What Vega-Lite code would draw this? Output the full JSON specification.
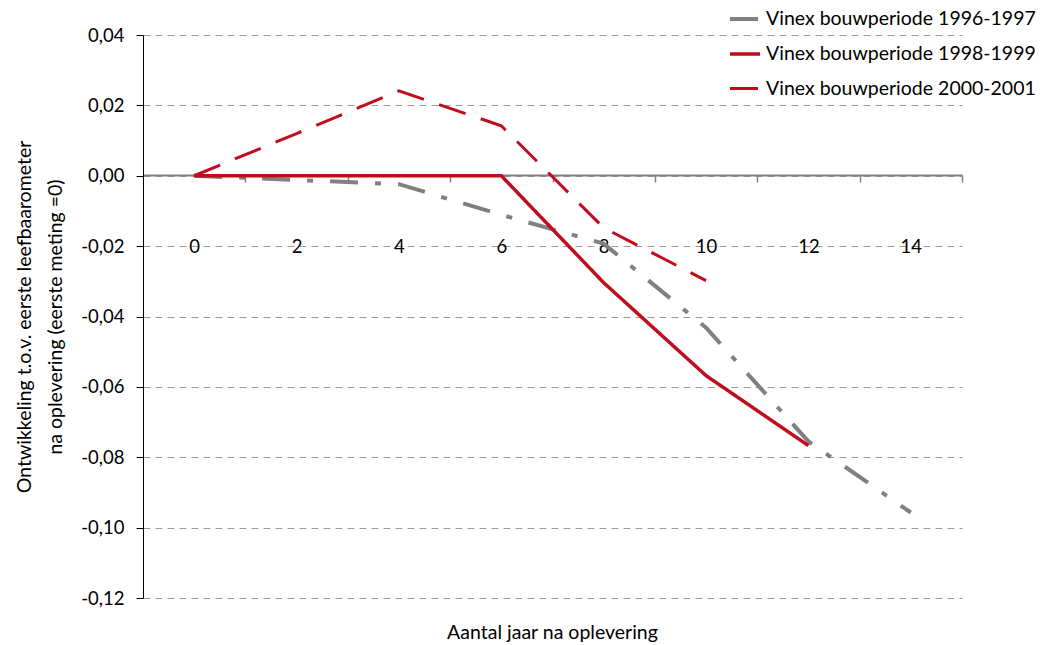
{
  "$schema": "https://vega.github.io/schema/vega-lite/v6.json",
  "width": 819,
  "height": 563,
  "autosize": {"type": "none"},
  "padding": {"left": 143, "top": 35, "right": 84, "bottom": 47},
  "background": "white",
  "config": {
    "locale": {"number": {"decimal": ",", "thousands": ".", "grouping": [3], "currency": ["€", ""], "minus": "-"}},
    "font": "Lato",
    "view": {"stroke": null}
  },
  "data": {
    "values": [
      {"jaar": 0, "waarde": 0, "serie": "Vinex bouwperiode 1996-1997"},
      {"jaar": 2, "waarde": -0.0012, "serie": "Vinex bouwperiode 1996-1997"},
      {"jaar": 4, "waarde": -0.0024, "serie": "Vinex bouwperiode 1996-1997"},
      {"jaar": 6, "waarde": -0.0111, "serie": "Vinex bouwperiode 1996-1997"},
      {"jaar": 8, "waarde": -0.0193, "serie": "Vinex bouwperiode 1996-1997"},
      {"jaar": 10, "waarde": -0.0432, "serie": "Vinex bouwperiode 1996-1997"},
      {"jaar": 12, "waarde": -0.0755, "serie": "Vinex bouwperiode 1996-1997"},
      {"jaar": 14, "waarde": -0.0957, "serie": "Vinex bouwperiode 1996-1997"},
      {"jaar": 0, "waarde": 0, "serie": "Vinex bouwperiode 1998-1999"},
      {"jaar": 2, "waarde": 0, "serie": "Vinex bouwperiode 1998-1999"},
      {"jaar": 4, "waarde": 0, "serie": "Vinex bouwperiode 1998-1999"},
      {"jaar": 6, "waarde": 0, "serie": "Vinex bouwperiode 1998-1999"},
      {"jaar": 8, "waarde": -0.0304, "serie": "Vinex bouwperiode 1998-1999"},
      {"jaar": 10, "waarde": -0.0568, "serie": "Vinex bouwperiode 1998-1999"},
      {"jaar": 12, "waarde": -0.0767, "serie": "Vinex bouwperiode 1998-1999"},
      {"jaar": 0, "waarde": 0, "serie": "Vinex bouwperiode 2000-2001"},
      {"jaar": 2, "waarde": 0.012, "serie": "Vinex bouwperiode 2000-2001"},
      {"jaar": 4, "waarde": 0.0241, "serie": "Vinex bouwperiode 2000-2001"},
      {"jaar": 6, "waarde": 0.0142, "serie": "Vinex bouwperiode 2000-2001"},
      {"jaar": 8, "waarde": -0.0148, "serie": "Vinex bouwperiode 2000-2001"},
      {"jaar": 10, "waarde": -0.0298, "serie": "Vinex bouwperiode 2000-2001"}
    ]
  },
  "mark": {"type": "line", "strokeCap": "butt", "strokeJoin": "miter"},
  "encoding": {
    "x": {
      "field": "jaar",
      "type": "quantitative",
      "scale": {"domain": [-1, 15], "nice": false, "zero": false},
      "axis": {
        "orient": "bottom",
        "offset": -423,
        "values": [0, 1, 2, 3, 4, 5, 6, 7, 8, 9, 10, 11, 12, 13, 14, 15],
        "labelExpr": "datum.value % 2 == 0 ? datum.label : ''",
        "tickOpacity": {"condition": {"test": "datum.value % 2 == 1", "value": 1}, "value": 0},
        "tickSize": 7,
        "tickColor": "#808080",
        "tickWidth": 1.5,
        "domainColor": "#808080",
        "domainWidth": 2,
        "labelPadding": 55,
        "labelBaseline": "top",
        "labelFontSize": 18.5,
        "labelColor": "black",
        "labelFont": "Lato",
        "grid": false,
        "title": "Aantal jaar na oplevering",
        "titleFontSize": 19.5,
        "titleFontWeight": "normal",
        "titleColor": "black",
        "titleFont": "Lato",
        "titleX": 409,
        "titleY": 457,
        "titleBaseline": "middle",
        "titleAnchor": null
      }
    },
    "y": {
      "field": "waarde",
      "type": "quantitative",
      "scale": {"domain": [-0.12, 0.04], "nice": false, "zero": false},
      "axis": {
        "values": [-0.12, -0.1, -0.08, -0.06, -0.04, -0.02, 0, 0.02, 0.04],
        "format": ".2f",
        "tickSize": 7,
        "tickColor": "black",
        "domainColor": "black",
        "domainWidth": 1,
        "labelPadding": 12,
        "labelFontSize": 18.5,
        "labelColor": "black",
        "labelFont": "Lato",
        "grid": true,
        "gridDash": [7, 5],
        "gridColor": "#9a9a9a",
        "gridWidth": 1,
        "title": ["Ontwikkeling t.o.v. eerste leefbaarometer", "na oplevering (eerste meting =0)"],
        "titleFontSize": 19.5,
        "titleFontWeight": "normal",
        "titleColor": "black",
        "titleFont": "Lato",
        "titleLineHeight": 31,
        "titlePadding": 15
      }
    },
    "color": {
      "field": "serie",
      "type": "nominal",
      "scale": {
        "domain": ["Vinex bouwperiode 1996-1997", "Vinex bouwperiode 1998-1999", "Vinex bouwperiode 2000-2001"],
        "range": ["#808080", "#c00d1e", "#c00d1e"]
      },
      "legend": {
        "orient": "none",
        "legendX": 585,
        "legendY": -33,
        "title": null,
        "symbolType": "stroke",
        "symbolSize": 900,
        "symbolStrokeWidth": 4,
        "labelFontSize": 19.5,
        "labelFont": "Lato",
        "labelColor": "black",
        "labelLimit": 0,
        "labelOffset": 4,
        "rowPadding": 8,
        "padding": 0
      }
    },
    "strokeDash": {
      "field": "serie",
      "type": "nominal",
      "scale": {
        "domain": ["Vinex bouwperiode 1996-1997", "Vinex bouwperiode 1998-1999", "Vinex bouwperiode 2000-2001"],
        "range": [[28, 17, 6, 17], [1, 0], [28, 16]]
      }
    },
    "strokeWidth": {
      "field": "serie",
      "type": "nominal",
      "scale": {
        "domain": ["Vinex bouwperiode 1996-1997", "Vinex bouwperiode 1998-1999", "Vinex bouwperiode 2000-2001"],
        "range": [4, 3, 4]
      },
      "legend": null
    }
  }
}
